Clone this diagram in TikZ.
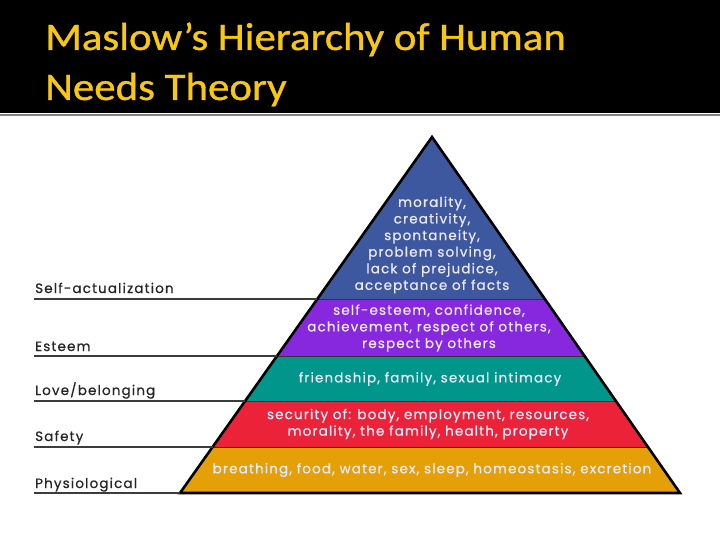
\documentclass[tikz,border=0pt]{standalone}
\usepackage{fontspec}
\setmainfont{Poppins}
\newfontfamily\titlefont[FakeStretch=1.1, FakeBold=1]{Carlito}
\newfontfamily\bandfont[LetterSpace=8.5, FakeBold=0.6]{Poppins}
\usepackage{xcolor}
\usetikzlibrary{calc}

\definecolor{titleyellow}{RGB}{247,199,18}
\definecolor{selfblue}{RGB}{62,88,160}
\definecolor{esteempurple}{RGB}{136,40,222}
\definecolor{loveteal}{RGB}{0,150,140}
\definecolor{safetyred}{RGB}{236,34,56}
\definecolor{physorange}{RGB}{229,160,8}
\definecolor{bandtext}{RGB}{236,234,250}
\definecolor{rulegray}{RGB}{60,60,60}

\tikzset{
  titletext/.style={text=titleyellow, font=\titlefont\fontsize{39}{46}\selectfont, anchor=base west, inner sep=0pt},
  bandlabel/.style={text=bandtext, font=\bandfont\fontsize{13.5}{16.6}\selectfont, align=center, inner sep=0pt},
  levellabel/.style={text=black!85, font=\bandfont\fontsize{13.5}{16}\selectfont, anchor=base west, inner sep=0pt},
  levelrule/.style={rulegray, line width=1.8pt},
  bandline/.style={black!80, line width=1pt}
}

\begin{document}
\begin{tikzpicture}[x=1pt, y=-1pt]

\useasboundingbox (0,0) rectangle (720,540);

% Header
\fill[black] (0,0) rectangle (720,113);
\draw[gray, line width=1.2pt] (0,115) -- (720,115);
\node[titletext] (title1) at (45,50) {Maslow’s Hierarchy of Human};
\node[titletext] (title2) at (45,100) {Needs Theory};

% Pyramid corners
\coordinate (apex) at (432,137);
\coordinate (bl) at (180,493);
\coordinate (br) at (680,493);

% Band boundaries along both sides
\foreach \name/\t in {a/0.4551, b/0.6152, c/0.7416, d/0.8708} {
  \coordinate (l\name) at ($(apex)!\t!(bl)$);
  \coordinate (r\name) at ($(apex)!\t!(br)$);
}

% Bands
\fill[selfblue] (apex) -- (la) -- (ra) -- cycle;
\fill[esteempurple] (la) -- (lb) -- (rb) -- (ra) -- cycle;
\fill[loveteal] (lb) -- (lc) -- (rc) -- (rb) -- cycle;
\fill[safetyred] (lc) -- (ld) -- (rd) -- (rc) -- cycle;
\fill[physorange] (ld) -- (bl) -- (br) -- (rd) -- cycle;

\foreach \name in {a,b,c,d}
  \draw[bandline] (l\name) -- (r\name);

% Outline
\draw[black, line width=2.6pt, line join=miter] (apex) -- (bl) -- (br) -- cycle;

% Level labels and rules
\coordinate (lft) at (34,0);
\draw[levelrule] (lft |- la) -- (la);
\draw[levelrule] (lft |- lb) -- (lb);
\draw[levelrule] (lft |- lc) -- (lc);
\draw[levelrule] (lft |- ld) -- (ld);
\draw[levelrule] (lft |- bl) -- (bl);

\node[levellabel] (selflbl) at (35,293) {Self-actualization};
\node[levellabel] (esteemlbl) at (35,351) {Esteem};
\node[levellabel] (lovelbl) at (35,395) {Love/belonging};
\node[levellabel] (safetylbl) at (35,441) {Safety};
\node[levellabel] (physlbl) at (35,488) {Physiological};

% Band texts
\node[bandlabel] (selftxt) at (432,245) {morality,\\creativity,\\spontaneity,\\problem solving,\\lack of prejudice,\\acceptance of facts};
\node[bandlabel] (esteemtxt) at (429,328) {self-esteem, confidence,\\achievement, respect of others,\\respect by others};
\node[bandlabel] (lovetxt) at (430,379) {friendship, family, sexual intimacy};
\node[bandlabel] (safetytxt) at (428,424) {security of: body, employment, resources,\\morality, the family, health, property};
\node[bandlabel] (phystxt) at (432,470) {breathing, food, water, sex, sleep, homeostasis, excretion};

\end{tikzpicture}
\end{document}
